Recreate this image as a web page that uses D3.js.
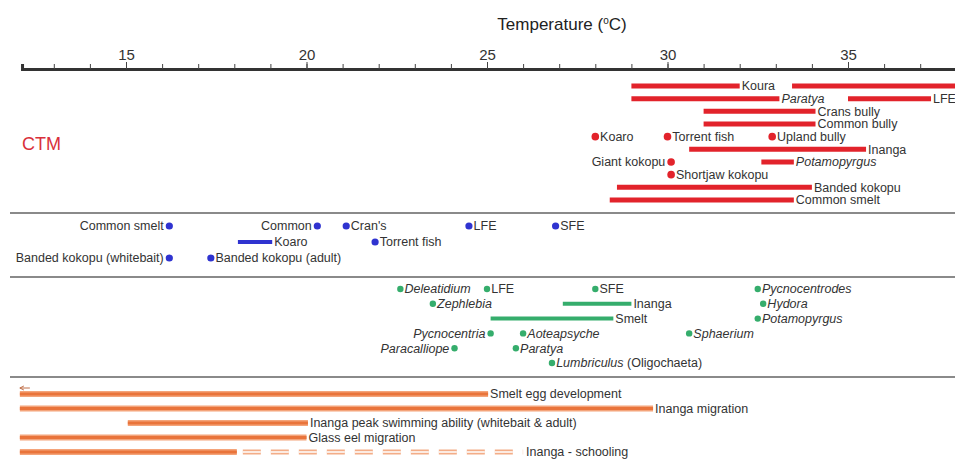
<!DOCTYPE html>
<html>
<head>
<meta charset="utf-8">
<script src="https://cdn.jsdelivr.net/npm/d3@7"></script>
<style>
  html, body { margin: 0; padding: 0; background: #fff; }
  svg { display: block; }
  text { font-family: "Liberation Sans", Arial, sans-serif; fill: #333; }
</style>
</head>
<body>
<svg id="chart" width="955" height="459"></svg>
<script>
// ---------- DATA ----------
const xTickLabels = [15, 20, 25, 30, 35];
const minorTicks = d3.range(13, 39);

// CTM (red) section
const ctmRanges = [
  { name: "Koura", lo: 29.0, hi: 32.0, row: 0 },
  { name: "", lo: 33.45, hi: 38.6, row: 0 },
  { name: "Paratya", lo: 29.0, hi: 33.1, row: 1, italic: true },
  { name: "LFE", lo: 35.0, hi: 37.3, row: 1 },
  { name: "Crans bully", lo: 31.0, hi: 34.1, row: 2 },
  { name: "Common bully", lo: 31.0, hi: 34.1, row: 3 },
  { name: "Inanga", lo: 30.6, hi: 35.5, row: 5 },
  { name: "Potamopyrgus", lo: 32.6, hi: 33.5, row: 6, italic: true },
  { name: "Banded kokopu", lo: 28.6, hi: 34.0, row: 8 },
  { name: "Common smelt", lo: 28.4, hi: 33.5, row: 9 }
];
const ctmPoints = [
  { name: "Koaro", t: 28.0, row: 4 },
  { name: "Torrent fish", t: 30.0, row: 4 },
  { name: "Upland bully", t: 32.9, row: 4 },
  { name: "Giant kokopu", t: 30.1, row: 6, side: "left" },
  { name: "Shortjaw kokopu", t: 30.1, row: 7 }
];

// Blue section
const blueRanges = [
  { name: "Koaro", lo: 18.1, hi: 19.05, row: 1 }
];
const bluePoints = [
  { name: "Common smelt", t: 16.2, row: 0, side: "left" },
  { name: "Common", t: 20.3, row: 0, side: "left" },
  { name: "Cran's", t: 21.1, row: 0 },
  { name: "LFE", t: 24.5, row: 0 },
  { name: "SFE", t: 26.9, row: 0 },
  { name: "Torrent fish", t: 21.9, row: 1 },
  { name: "Banded kokopu (whitebait)", t: 16.2, row: 2, side: "left" },
  { name: "Banded kokopu (adult)", t: 17.35, row: 2 }
];

// Green section
const greenRanges = [
  { name: "Inanga", lo: 27.1, hi: 29.0, row: 1 },
  { name: "Smelt", lo: 25.1, hi: 28.5, row: 2 }
];
const greenPoints = [
  { name: "Deleatidium", t: 22.6, row: 0, italic: true },
  { name: "LFE", t: 25.0, row: 0 },
  { name: "SFE", t: 28.0, row: 0 },
  { name: "Pycnocentrodes", t: 32.5, row: 0, italic: true },
  { name: "Zephlebia", t: 23.5, row: 1, italic: true },
  { name: "Hydora", t: 32.65, row: 1, italic: true },
  { name: "Potamopyrgus", t: 32.5, row: 2, italic: true },
  { name: "Pycnocentria", t: 25.1, row: 3, italic: true, side: "left" },
  { name: "Aoteapsyche", t: 26.0, row: 3, italic: true },
  { name: "Sphaerium", t: 30.6, row: 3, italic: true },
  { name: "Paracalliope", t: 24.1, row: 4, italic: true, side: "left" },
  { name: "Paratya", t: 25.8, row: 4, italic: true },
  { name: "Lumbriculus", t: 26.8, row: 5, italic: true, suffix: " (Oligochaeta)" }
];

// Orange section
const orangeRanges = [
  { name: "Smelt egg development", lo: 12.06, hi: 25.03, row: 0 },
  { name: "Inanga migration", lo: 12.06, hi: 29.6, row: 1 },
  { name: "Inanga peak swimming ability (whitebait & adult)", lo: 15.05, hi: 20.04, row: 2 },
  { name: "Glass eel migration", lo: 12.06, hi: 20.0, row: 3 },
  { name: "", lo: 12.06, hi: 18.07, row: 4 }
];
const orangeDashed = [
  { name: "Inanga - schooling", lo: 18.07, hi: 26.0, row: 4 }
];

// ---------- DRAWING ----------
const svg = d3.select("#chart");
const W = 955;

const x = d3.scaleLinear().domain([15, 35]).range([126, 848]);
const axisY = 69;

// title
const title = svg.append("text")
  .attr("x", 562).attr("y", 30)
  .attr("text-anchor", "middle")
  .style("font-size", "17px")
  .style("fill", "#222");
title.append("tspan").text("Temperature (");
title.append("tspan").text("o").attr("dy", -6).style("font-size", "10px");
title.append("tspan").text("C)").attr("dy", 6);

// axis
const axisScale = x.copy().domain([12.12, 38.6]).range([x(12.12), x(38.6)]);
const axisG = svg.append("g").attr("transform", `translate(0,${axisY})`);
axisG.call(d3.axisTop(axisScale).tickValues(minorTicks).tickSize(5).tickFormat(""));
axisG.select(".domain").attr("stroke", "#333").attr("stroke-width", 3);
axisG.selectAll(".tick line").attr("stroke", "#444").attr("stroke-width", 1);
const majorG = svg.append("g").attr("transform", `translate(0,${axisY})`);
majorG.call(d3.axisTop(axisScale).tickValues(xTickLabels).tickSize(7).tickPadding(2).tickFormat(d3.format("d")));
majorG.select(".domain").remove();
majorG.selectAll(".tick line").attr("stroke", "#444");
majorG.selectAll(".tick text")
  .style("font-size", "15px").style("fill", "#333")
  .style("font-family", '"Liberation Sans", Arial, sans-serif');

// separators
[213, 277, 377].forEach(yy => {
  svg.append("line").attr("x1", 10).attr("x2", W).attr("y1", yy).attr("y2", yy)
    .attr("stroke", "#8a8a8a").attr("stroke-width", 2);
});

// CTM label
svg.append("text").attr("x", 22).attr("y", 150).text("CTM")
  .style("font-size", "18px").style("fill", "#d9303a");

function labelText(g, d, xx, yy, anchor) {
  const t = g.append("text")
    .attr("x", xx).attr("y", yy).attr("dy", "0.35em")
    .attr("text-anchor", anchor)
    .style("font-size", "12.5px");
  t.append("tspan").text(d.name).style("font-style", d.italic ? "italic" : "normal");
  if (d.suffix) t.append("tspan").text(d.suffix);
}

function drawSection(ranges, points, y, color, opts) {
  const g = svg.append("g");
  const r = opts.r;
  ranges.forEach(d => {
    g.append("line")
      .attr("x1", x(d.lo)).attr("x2", x(d.hi))
      .attr("y1", y(d.row)).attr("y2", y(d.row))
      .attr("stroke", color).attr("stroke-width", opts.bw);
    if (d.name) labelText(g, d, x(d.hi) + 2, y(d.row), "start");
  });
  points.forEach(d => {
    g.append("circle").attr("cx", x(d.t)).attr("cy", y(d.row)).attr("r", r).attr("fill", color);
    if (d.name) {
      if (d.side === "left") labelText(g, d, x(d.t) - r - 2, y(d.row), "end");
      else labelText(g, d, x(d.t) + r + 1, y(d.row), "start");
    }
  });
  return g;
}

const yRed = d3.scalePoint().domain(d3.range(10)).range([86, 200]);
const yBlue = d3.scalePoint().domain(d3.range(3)).range([226, 258]);
const yGreen = d3.scalePoint().domain(d3.range(6)).range([289, 363]);
const yOrange = d3.scalePoint().domain(d3.range(5)).range([394, 452]);

drawSection(ctmRanges, ctmPoints, yRed, "#e2232b", { r: 3.8, bw: 5 });
drawSection(blueRanges, bluePoints, yBlue, "#2f33d0", { r: 3.6, bw: 4 });
drawSection(greenRanges, greenPoints, yGreen, "#35ad6c", { r: 3.2, bw: 4 });

// orange bars (double-tone)
const og = svg.append("g");
orangeRanges.forEach(d => {
  og.append("line").attr("x1", x(d.lo)).attr("x2", x(d.hi))
    .attr("y1", yOrange(d.row)).attr("y2", yOrange(d.row))
    .attr("stroke", "#f4a47a").attr("stroke-width", 6);
  og.append("line").attr("x1", x(d.lo)).attr("x2", x(d.hi))
    .attr("y1", yOrange(d.row)).attr("y2", yOrange(d.row))
    .attr("stroke", "#e9743b").attr("stroke-width", 3);
  if (d.name) labelText(og, d, x(d.hi) + 2, yOrange(d.row), "start");
});
orangeDashed.forEach(d => {
  const yy = yOrange(d.row);
  og.append("line").attr("x1", x(d.lo) + 6).attr("x2", x(d.hi))
    .attr("y1", yy).attr("y2", yy)
    .attr("stroke", "#f3ad88").attr("stroke-width", 5)
    .attr("stroke-dasharray", "18,10");
  og.append("line").attr("x1", x(d.lo) + 6).attr("x2", x(d.hi))
    .attr("y1", yy).attr("y2", yy)
    .attr("stroke", "#fff").attr("stroke-width", 1.6)
    .attr("stroke-dasharray", "18,10");
  labelText(og, d, x(d.hi) + 3, yy, "start");
});
// small arrow at start of smelt egg development
const ay = yOrange(0) - 6;
og.append("path")
  .attr("d", `M${x(12.06)},${ay} L${x(12.06) + 10},${ay} M${x(12.06)},${ay} l4,-2 M${x(12.06)},${ay} l4,2`)
  .attr("stroke", "#c0704a").attr("stroke-width", 1).attr("fill", "none");
</script>
</body>
</html>
